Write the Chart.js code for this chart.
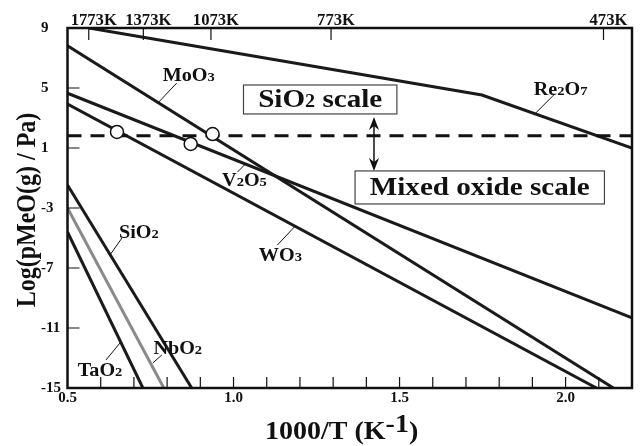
<!DOCTYPE html>
<html><head><meta charset="utf-8">
<script src="https://cdn.jsdelivr.net/npm/chart.js@4/dist/chart.umd.min.js"></script>
<style>html,body{margin:0;padding:0;background:#fff;}canvas{display:block}</style>
</head><body>
<canvas id="c" width="640" height="446"></canvas>
<script>
// ---- data (1000/T in K^-1, log pMeO(g)/Pa) ----
const re2o7X = [0.565, 1.748, 2.2];
const re2o7Y = [9, 4.53, 1.0];
const moo3X = [0.5, 2.144];
const moo3Y = [7.82, -15];
const v2o5X = [0.5, 2.2];
const v2o5Y = [4.65, -10.33];
const wo3X = [0.5, 2.093];
const wo3Y = [3.93, -15];
const sio2X = [0.5, 0.874];
const sio2Y = [-1.47, -15];
const nbo2X = [0.5, 0.79];
const nbo2Y = [-3, -15];
const tao2X = [0.5, 0.727];
const tao2Y = [-4.6, -15];
const boundaryX = [0.5, 2.2];
const boundaryY = [1.82, 1.82];
const markerX = [0.649, 0.871, 0.937];
const markerY = [2.07, 1.27, 1.93];
// ---- ticks ----
const xTickValues = [0.5,0.6,0.7,0.8,0.9,1.0,1.1,1.2,1.3,1.4,1.5,1.6,1.7,1.8,1.9,2.0,2.1,2.2];
const xTickLabels = [0.5, 1.0, 1.5, 2.0];
const yTickLabels = [-15, -11, -7, -3, 1, 5, 9];
const topTempK = [1773, 1373, 1073, 773, 473];

const FONT = '"Liberation Serif", "Times New Roman", serif';
const STRETCH = 1.12;

const pts = (xs, ys) => xs.map((x, i) => ({x: x, y: ys[i]}));
const lineDs = (xs, ys, color) => ({data: pts(xs, ys), showLine: true, borderColor: color, borderWidth: 3,
  pointRadius: 0, fill: false, order: 2, tension: 0});

// annotation layout (data coordinates)
const labels = [
  {parts: [['MoO', 18], ['3', 13]], at: [0.865, 5.87], lead: [[0.829, 5.33], [0.772, 4.0]]},
  {parts: [['V', 18], ['2', 13], ['O', 18], ['5', 13]], at: [1.033, -1.13], lead: [[1.012, -0.6], [1.033, -0.13]]},
  {parts: [['WO', 18], ['3', 13]], at: [1.141, -6.13], lead: [[1.132, -5.47], [1.183, -4.27]]},
  {parts: [['Re', 18], ['2', 13], ['O', 18], ['7', 13]], at: [1.985, 4.93], lead: [[1.964, 4.53], [1.910, 3.33]]},
  {parts: [['SiO', 18], ['2', 13]], at: [0.715, -4.6], lead: [[0.664, -5.0], [0.628, -6.13]]},
  {parts: [['NbO', 18], ['2', 13]], at: [0.832, -12.33], lead: [[0.784, -12.8], [0.757, -13.33]]},
  {parts: [['TaO', 18], ['2', 13]], at: [0.598, -13.8], lead: [[0.658, -12.0], [0.616, -13.13]]}
];
const boxes = [
  {parts: [['SiO', 26], ['2', 18], [' scale', 26]], x0: 1.030, x1: 1.492, y0: 5.2, y1: 3.27},
  {parts: [['Mixed oxide scale', 26]], x0: 1.366, x1: 2.117, y0: -0.53, y1: -2.73}
];
const arrow = {x: 1.423, yTop: 3.07, yBot: -0.53};

function drawParts(ctx, parts, cx, baseline, stretch, align) {
  ctx.save();
  const widths = parts.map(p => { ctx.font = 'bold ' + p[1] + 'px ' + FONT; return ctx.measureText(p[0]).width; });
  const total = widths.reduce((a, b) => a + b, 0) * stretch;
  ctx.translate(align === 'left' ? cx : cx - total / 2, baseline);
  ctx.scale(stretch, 1);
  ctx.textAlign = 'left';
  ctx.textBaseline = 'alphabetic';
  let x = 0;
  parts.forEach((p, i) => {
    ctx.font = 'bold ' + p[1] + 'px ' + FONT;
    ctx.fillText(p[0], x, p[2] || 0);
    x += widths[i];
  });
  ctx.restore();
}

const deco = {
  id: 'deco',
  afterDraw(chart) {
    const ctx = chart.ctx, xs = chart.scales.x, ys = chart.scales.y, a = chart.chartArea;
    const px = v => xs.getPixelForValue(v), py = v => ys.getPixelForValue(v);
    ctx.save();
    ctx.fillStyle = '#111';
    ctx.strokeStyle = '#111';
    // frame
    ctx.lineWidth = 2.5;
    ctx.strokeRect(a.left, a.top, a.right - a.left, a.bottom - a.top);
    // inward ticks
    ctx.lineWidth = 1.2;
    ctx.beginPath();
    xTickValues.forEach(v => { if (v > 0.5 && v < 2.2) { ctx.moveTo(px(v), a.bottom); ctx.lineTo(px(v), a.bottom - 11); } });
    yTickLabels.forEach(v => { if (v > -15 && v < 9) { ctx.moveTo(a.left, py(v)); ctx.lineTo(a.left + 12, py(v)); } });
    topTempK.forEach(t => { const x = px(1000 / t); ctx.moveTo(x, a.top); ctx.lineTo(x, a.top + 12); });
    ctx.stroke();
    // top temperature labels
    topTempK.forEach(t => drawParts(ctx, [[t + 'K', 16]], px(1000 / t) + 5, a.top - 3, 1.04));
    // leader lines + labels
    ctx.lineWidth = 1;
    labels.forEach(l => {
      ctx.beginPath();
      ctx.moveTo(px(l.lead[0][0]), py(l.lead[0][1]));
      ctx.lineTo(px(l.lead[1][0]), py(l.lead[1][1]));
      ctx.stroke();
      drawParts(ctx, l.parts, px(l.at[0]), py(l.at[1]) + 6, STRETCH);
    });
    // boxes
    boxes.forEach(b => {
      const x0 = px(b.x0), x1 = px(b.x1), y0 = py(b.y0), y1 = py(b.y1);
      ctx.fillStyle = '#fff';
      ctx.fillRect(x0, y0, x1 - x0, y1 - y0);
      ctx.strokeStyle = '#444';
      ctx.lineWidth = 1.2;
      ctx.strokeRect(x0, y0, x1 - x0, y1 - y0);
      ctx.fillStyle = '#111';
      drawParts(ctx, b.parts, (x0 + x1) / 2, (y0 + y1) / 2 + 8, STRETCH);
    });
    // double arrow
    const ax = px(arrow.x), at = py(arrow.yTop), ab = py(arrow.yBot);
    ctx.strokeStyle = '#111';
    ctx.lineWidth = 1.5;
    ctx.beginPath(); ctx.moveTo(ax, at + 6); ctx.lineTo(ax, ab - 6); ctx.stroke();
    const head = (tipY, dir) => {
      ctx.beginPath();
      ctx.moveTo(ax, tipY);
      ctx.lineTo(ax - 5, tipY + dir * 13);
      ctx.lineTo(ax, tipY + dir * 9);
      ctx.lineTo(ax + 5, tipY + dir * 13);
      ctx.closePath();
      ctx.fill();
    };
    head(at, 1); head(ab, -1);
    // axis titles
    drawParts(ctx, [['1000/T (K', 25], ['-1', 25, -7], [')', 25]], 265, 439, STRETCH, 'left');
    ctx.save();
    ctx.translate(35, 210);
    ctx.scale(STRETCH, 1);
    ctx.rotate(-Math.PI / 2);
    ctx.font = 'bold 24px ' + FONT;
    ctx.textAlign = 'center';
    ctx.textBaseline = 'alphabetic';
    ctx.fillText('Log(pMeO(g) / Pa)', 0, 0);
    ctx.restore();
    ctx.restore();
  }
};

const tickFont = {family: FONT, size: 15, weight: 'bold'};
new Chart(document.getElementById('c').getContext('2d'), {
  type: 'scatter',
  data: {
    datasets: [
      {data: pts(markerX, markerY), showLine: false, pointRadius: 6.5, pointBackgroundColor: '#fff',
        pointBorderColor: '#111', pointBorderWidth: 1.5, order: 0},
      Object.assign(lineDs(boundaryX, boundaryY, '#111'), {borderDash: [14, 9], order: 1}),
      lineDs(re2o7X, re2o7Y, '#1a1a1a'),
      lineDs(moo3X, moo3Y, '#1a1a1a'),
      lineDs(v2o5X, v2o5Y, '#1a1a1a'),
      lineDs(wo3X, wo3Y, '#1a1a1a'),
      lineDs(sio2X, sio2Y, '#1a1a1a'),
      lineDs(nbo2X, nbo2Y, '#8a8a8a'),
      lineDs(tao2X, tao2Y, '#1a1a1a')
    ]
  },
  options: {
    responsive: false, animation: false, devicePixelRatio: 1,
    layout: {padding: {left: 41, top: 28, right: 7, bottom: 0}},
    plugins: {legend: {display: false}, tooltip: {enabled: false}},
    scales: {
      x: {
        type: 'linear', min: 0.5, max: 2.2,
        afterBuildTicks: s => { s.ticks = xTickValues.map(v => ({value: v})); },
        afterFit: s => { s.height = 58; },
        grid: {display: false, drawTicks: false}, border: {display: false},
        ticks: {autoSkip: false, maxRotation: 0, padding: 1, color: '#111', font: tickFont,
          callback: v => xTickLabels.some(t => Math.abs(t - v) < 1e-6) ? Number(v).toFixed(1) : ''}
      },
      y: {
        type: 'linear', min: -15, max: 9,
        afterBuildTicks: s => { s.ticks = yTickLabels.map(v => ({value: v})); },
        afterFit: s => { s.width = 26.5; },
        grid: {display: false, drawTicks: false}, border: {display: false},
        ticks: {autoSkip: false, crossAlign: 'far', padding: 4, color: '#111', font: tickFont,
          callback: v => String(v)}
      }
    }
  },
  plugins: [deco]
});
</script>
</body></html>
